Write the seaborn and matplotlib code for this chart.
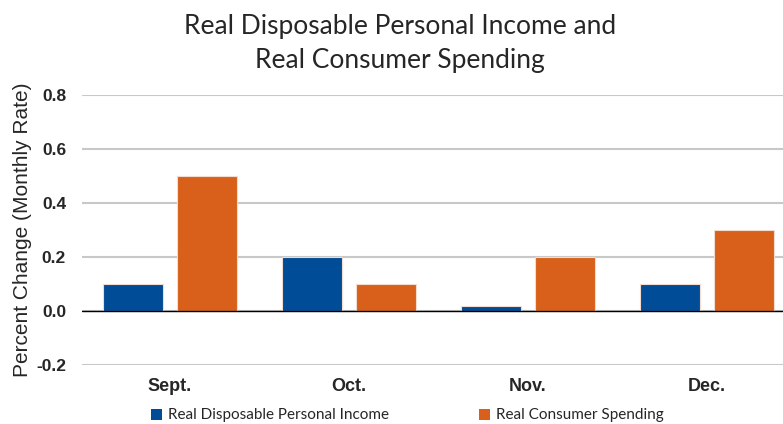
import matplotlib
matplotlib.use("Agg")
import matplotlib.pyplot as plt
import seaborn as sns
import pandas as pd
from matplotlib.patches import Patch

months = ["Sept.", "Oct.", "Nov.", "Dec."]
income = [0.1, 0.2, 0.02, 0.1]
spending = [0.5, 0.1, 0.2, 0.3]
series_names = ["Real Disposable Personal Income", "Real Consumer Spending"]
colors = ["#004C97", "#D9601A"]
yticks = [-0.2, 0.0, 0.2, 0.4, 0.6, 0.8]

df = pd.DataFrame({
    "month": months * 2,
    "value": income + spending,
    "series": [series_names[0]] * 4 + [series_names[1]] * 4,
})

sns.set_theme(style="white")
plt.rcParams['font.family'] = ['Liberation Sans', 'DejaVu Sans']

fig = plt.figure(figsize=(7.83, 4.24), dpi=100)
ax = fig.add_axes([82/783, (424-365)/424, 1 - 82/783, (365-95)/424])

sns.barplot(data=df, x="month", y="value", hue="series", palette=colors,
            saturation=1, width=0.83, gap=0.2, ax=ax, legend=False,
            edgecolor="#F2DCCF", linewidth=0.8, zorder=3)

ax.set_ylim(-0.2, 0.8)
ax.set_xlim((82-170)/179, (783-170)/179)
ax.set_yticks(yticks)
ax.set_yticklabels([f"{t:.1f}" for t in yticks], fontsize=12.5, fontweight="bold")
for t in ax.get_xticklabels():
    t.set_fontsize(13)
    t.set_fontweight("bold")
ax.tick_params(axis="y", length=0, pad=11.5)
ax.tick_params(axis="x", length=0, pad=9.5)
ax.set_xlabel("")
ax.set_ylabel("Percent Change (Monthly Rate)", fontsize=15, labelpad=3)
ax.yaxis.grid(True, color="#C8C8C8", linewidth=1.5, zorder=0)
ax.set_axisbelow(True)
ax.axhline(0, color="black", linewidth=1.0, zorder=4)
for s in ax.spines.values():
    s.set_visible(False)

fig.text(0.511, 0.968, "Real Disposable Personal Income and\nReal Consumer Spending",
         ha="center", va="top", fontsize=19, family=["Lato", "DejaVu Sans"],
         linespacing=1.45)

handles = [Patch(facecolor=c, edgecolor="none") for c in colors]
fig.legend(handles, series_names, loc="center", bbox_to_anchor=(0.52, (424-415.5)/424),
           ncol=2, frameon=False, prop={"family": ["Lato", "DejaVu Sans"], "size": 11},
           handlelength=0.7, handleheight=0.7, handletextpad=0.4, columnspacing=5.9)

fig.savefig("out.png", dpi=100)
